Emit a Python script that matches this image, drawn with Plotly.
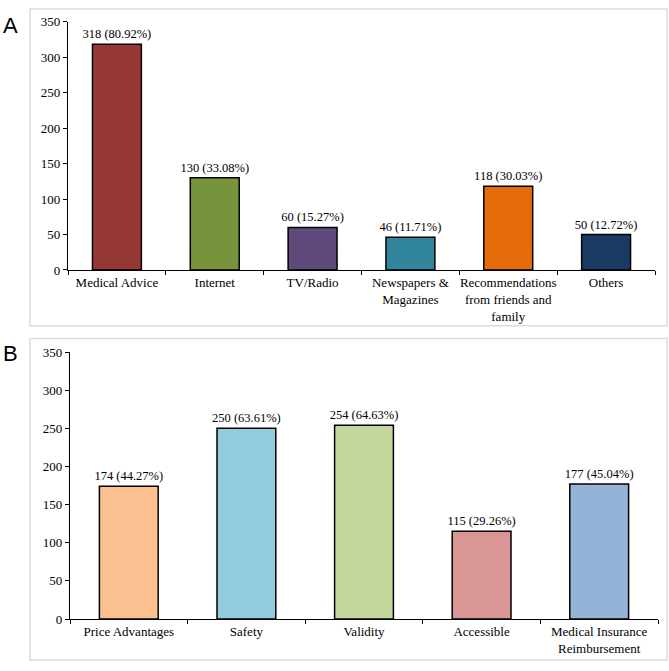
import plotly.graph_objects as go
from plotly.subplots import make_subplots

# panel A - sources of information
sources = ["Medical Advice", "Internet", "TV/Radio", "Newspapers &<br>Magazines",
           "Recommendations<br>from friends and<br>family", "Others"]
source_counts = [318, 130, 60, 46, 118, 50]
source_pct = ["80.92%", "33.08%", "15.27%", "11.71%", "30.03%", "12.72%"]
source_colors = ["#953735", "#77933C", "#604A7B", "#31859C", "#E46C0A", "#1B3A63"]

# panel B - reasons
reasons = ["Price Advantages", "Safety", "Validity", "Accessible",
           "Medical Insurance<br>Reimbursement"]
reason_counts = [174, 250, 254, 115, 177]
reason_pct = ["44.27%", "63.61%", "64.63%", "29.26%", "45.04%"]
reason_colors = ["#FAC090", "#93CDDD", "#C3D69B", "#D99694", "#95B3D7"]

W, H = 669, 671
serif = "Liberation Serif"

fig = make_subplots(rows=2, cols=1)

fig.add_trace(go.Bar(
    x=sources, y=source_counts,
    text=[f"{c} ({p})" for c, p in zip(source_counts, source_pct)],
    textposition="outside", cliponaxis=False, constraintext="none",
    marker=dict(color=source_colors, line=dict(color="black", width=1.5)),
), row=1, col=1)

fig.add_trace(go.Bar(
    x=reasons, y=reason_counts,
    text=[f"{c} ({p})" for c, p in zip(reason_counts, reason_pct)],
    textposition="outside", cliponaxis=False, constraintext="none",
    marker=dict(color=reason_colors, line=dict(color="black", width=1.5)),
), row=2, col=1)

fig.update_traces(textfont=dict(family=serif, size=12.5, color="black"))

axis_style = dict(showline=True, linecolor="black", linewidth=1.3,
                  ticks="outside", ticklen=4, tickcolor="black",
                  showgrid=False, zeroline=False,
                  tickfont=dict(family=serif, size=13, color="black"))

fig.update_xaxes(**axis_style, tickson="boundaries", tickangle=0)
fig.update_yaxes(**axis_style, range=[0, 350], dtick=50)

def px_x(p):
    return p / W

def px_y(p):
    return 1 - p / H

fig.update_layout(
    width=W, height=H,
    margin=dict(l=0, r=0, t=0, b=0),
    paper_bgcolor="white", plot_bgcolor="white",
    showlegend=False, bargap=0.5,
    xaxis=dict(domain=[px_x(68), px_x(655)]),
    yaxis=dict(domain=[px_y(269), px_y(15)]),
    xaxis2=dict(domain=[px_x(70), px_x(658)]),
    yaxis2=dict(domain=[px_y(626), px_y(353)]),
)

# panel frames
for top, bottom in [(2, 326), (339, 668)]:
    fig.add_shape(type="rect", xref="paper", yref="paper",
                  x0=px_x(30), x1=px_x(667), y0=px_y(bottom), y1=px_y(top),
                  line=dict(color="#dcdcdc", width=1.5))

for label, top in [("A", 4), ("B", 340)]:
    fig.add_annotation(text=label, xref="paper", yref="paper",
                       x=px_x(1), y=px_y(top), xanchor="left", yanchor="top",
                       showarrow=False,
                       font=dict(family="Liberation Sans", size=22, color="black"))

# page has a default body margin, drop it so the figure fills the window
fig.write_html("out.html", config={"displayModeBar": False},
               post_script="document.body.style.margin='0';")
